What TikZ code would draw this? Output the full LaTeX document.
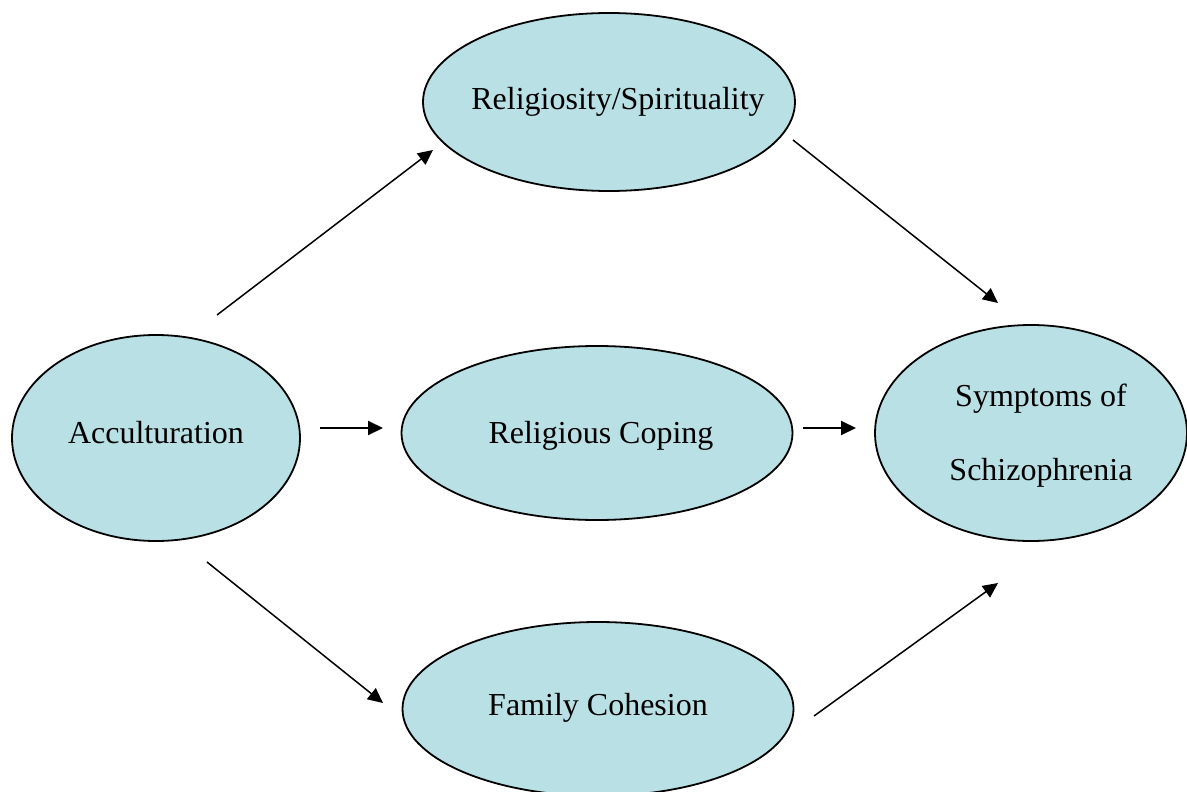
\documentclass[tikz,border=0pt]{standalone}
\usepackage{fontspec}
\setmainfont{Liberation Serif}
\usetikzlibrary{shapes.geometric,arrows.meta}
\definecolor{bubble}{RGB}{185,224,228}
\tikzset{
  bub/.style={ellipse, draw=black, line width=1.8pt, fill=bubble, inner sep=0pt},
  txt/.style={inner sep=0pt, font=\fontsize{32}{38}\selectfont, align=center},
  arr/.style={-{Triangle[length=15pt,width=14pt]}, line width=1.5pt},
  harr/.style={arr, line width=2pt}
}
\begin{document}
\begin{tikzpicture}[x=1pt,y=-1pt]
\useasboundingbox (0,0) rectangle (1187,792);
\node[bub, minimum width=288pt, minimum height=206pt] (acc) at (156,438) {};
\node[bub, minimum width=372pt, minimum height=178pt] (rel) at (609,102) {};
\node[bub, minimum width=391pt, minimum height=174pt] (cop) at (597,433) {};
\node[bub, minimum width=391pt, minimum height=174pt] (fam) at (598,709) {};
\node[bub, minimum width=312pt, minimum height=216pt] (sym) at (1031,433) {};
\node[txt] (acct) at (156,433) {Acculturation};
\node[txt] (relt) at (618,102) {Religiosity/Spirituality};
\node[txt] (copt) at (601,436) {Religious Coping};
\node[txt] (famt) at (598,708) {Family Cohesion};
\node[txt, font=\fontsize{32}{74}\selectfont] (symt) at (1041,436) {Symptoms of\\Schizophrenia};
\coordinate (a1) at (217,315); \coordinate (a2) at (433,150);
\coordinate (b1) at (320,428); \coordinate (b2) at (383,428);
\coordinate (c1) at (207,562); \coordinate (c2) at (383,703);
\coordinate (d1) at (793,140); \coordinate (d2) at (998,303);
\coordinate (e1) at (803,428); \coordinate (e2) at (856,428);
\coordinate (f1) at (814,716); \coordinate (f2) at (998,583);
\draw[arr] (a1) -- (a2);
\draw[harr] (b1) -- (b2);
\draw[arr] (c1) -- (c2);
\draw[arr] (d1) -- (d2);
\draw[harr] (e1) -- (e2);
\draw[arr] (f1) -- (f2);
\end{tikzpicture}
\end{document}
